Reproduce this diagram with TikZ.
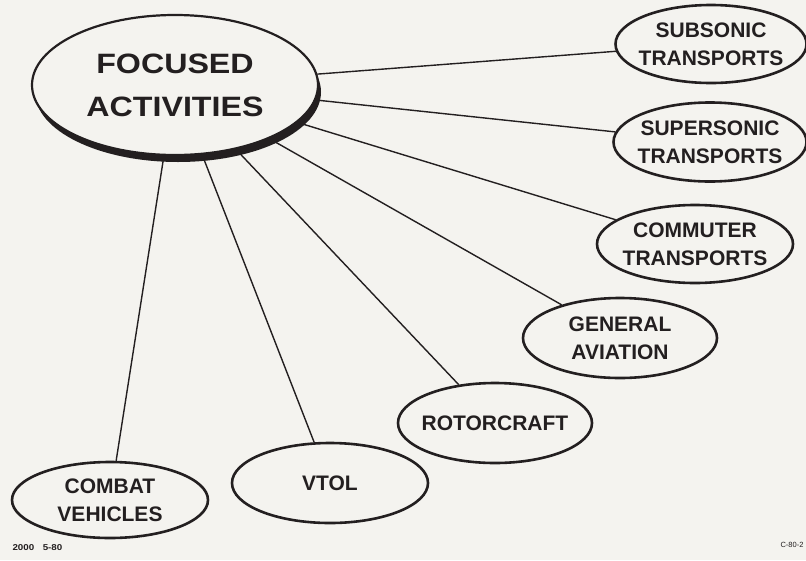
\documentclass[tikz,border=0pt]{standalone}
\usepackage{fontspec}
\setmainfont{Liberation Sans}
\newfontfamily\widesans[FakeStretch=1.15]{Liberation Sans}
\usetikzlibrary{shapes.geometric}

\definecolor{paper}{RGB}{244,243,239}
\definecolor{ink}{RGB}{35,31,32}

\tikzset{
  activity/.style={ellipse, draw=ink, line width=2.6pt, fill=paper, inner xsep=-20pt, inner ysep=-8pt,
    minimum width=194pt, minimum height=80pt, align=center, text=ink, font=\fontsize{21}{28}\selectfont\bfseries},
  link/.style={draw=ink, line width=1.4pt}
}

\begin{document}
\begin{tikzpicture}[x=1pt,y=-1pt]
  \fill[paper] (0,0) rectangle (806,560);
  \useasboundingbox (0,0) rectangle (806,560);

  % main disc with its dark rim
  \fill[ink] (178,92) ellipse [x radius=143, y radius=70];
  \node[ellipse, draw=ink, line width=2.2pt, fill=paper, minimum width=286pt, minimum height=140pt, inner sep=0pt,
    align=center, text=ink, font=\widesans\bfseries\fontsize{28}{43}\selectfont] (focus) at (175,85) {FOCUSED\\ACTIVITIES};

  \node[activity, minimum width=191pt, minimum height=78pt] (subsonic) at (711,44) {SUBSONIC\\TRANSPORTS};
  \node[activity, minimum width=193pt, minimum height=79pt] (supersonic) at (710,142) {SUPERSONIC\\TRANSPORTS};
  \node[activity, minimum width=196pt, minimum height=78pt] (commuter) at (695,244) {COMMUTER\\TRANSPORTS};
  \node[activity] (general) at (620,338) {GENERAL\\AVIATION};
  \node[activity] (rotor) at (495,423) {ROTORCRAFT};
  \node[activity, minimum width=196pt] (vtol) at (330,483) {VTOL};
  \node[activity, minimum width=196pt, minimum height=76pt] (combat) at (110,500) {COMBAT\\VEHICLES};

  \foreach \leaf in {subsonic,supersonic,commuter,general,rotor,vtol,combat}
    \draw[link] (focus) -- (\leaf);

  \node[font=\widesans\bfseries\fontsize{8.5}{10}\selectfont, text=ink, anchor=west] (date) at (9,548) {2000\quad 5-80};
  \node[font=\fontsize{7.5}{9}\selectfont, text=ink, anchor=east] (code) at (807,545) {C-80-2};
\end{tikzpicture}
\end{document}
